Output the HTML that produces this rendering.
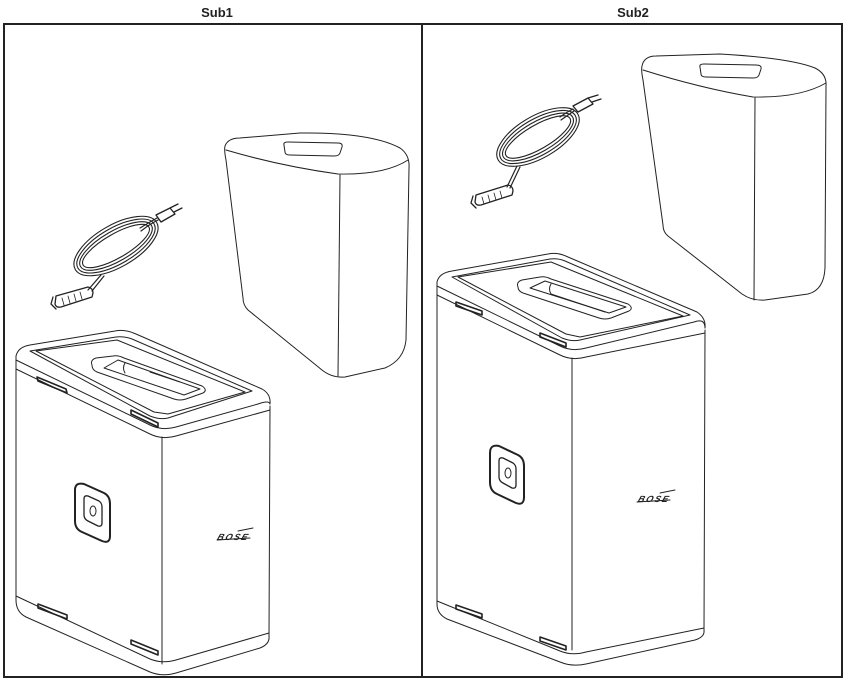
<!DOCTYPE html>
<html><head><meta charset="utf-8"><style>
html,body{margin:0;padding:0;background:#fff;width:844px;height:679px;overflow:hidden}
svg{display:block}
text{font-family:"Liberation Sans",sans-serif}
</style></head><body>
<svg width="844" height="679" viewBox="0 0 844 679" xmlns="http://www.w3.org/2000/svg">
<text x="217" y="17" font-size="13" font-weight="bold" text-anchor="middle" fill="#222">Sub1</text>
<text x="633" y="17" font-size="13" font-weight="bold" text-anchor="middle" fill="#222">Sub2</text>
<rect x="4" y="24" width="838" height="653" fill="none" stroke="#222" stroke-width="2"/>
<line x1="422" y1="24" x2="422" y2="677" stroke="#222" stroke-width="2"/>

<g fill="none" stroke="#222" stroke-width="1" stroke-linejoin="round" stroke-linecap="round">
<!-- ===== Sub1 cover ===== -->
<path d="M225,146 Q228,138 240,138 L300,133 Q370,132 400,148 Q410,155 409,168 L406,340 Q404,360 385,368 L345,377 Q332,378 322,370 L248,310 Q243,305 243,298 L226,160 Q224,150 225,146 Z"/>
<path d="M226,150 Q280,166 338,174 Q385,175 408,160"/>
<path d="M340,175 L338,376"/>
<path d="M284,145 Q283,142 288,142 L338,143 Q343,143 342,147 L340,153 Q339,156 334,156 L290,155 Q285,155 285,152 Z"/>

<!-- Sub1 cord -->
<g transform="translate(116,246) rotate(-30)" stroke-width="1.1">
<ellipse cx="0" cy="0" rx="47" ry="21"/>
<ellipse cx="0" cy="0" rx="44" ry="18"/>
<ellipse cx="0" cy="0" rx="41" ry="15"/>
<ellipse cx="0" cy="0" rx="38" ry="12"/>
</g>
<path d="M104,276 L92,291 M101,275 L88,290" stroke-width="1.2"/>
<path d="M56,296 L88,287 Q93,288 93,293 L92,297 L61,307 Q56,308 55,304 Z M53,297 L51,304 L56,309" stroke-width="1.3"/>
<path d="M62,298 L64,305 M68,296 L70,303 M74,294 L76,301 M80,292 L82,299" stroke-width="0.8"/>
<path d="M140,228 Q150,222 157,218 M141,231 Q150,224 158,220" stroke-width="1.2"/>
<path d="M156,215 L170,208 L175,214 L161,222 Z M170,208 L178,204 M174,212 L182,208" stroke-width="1.3"/>

<!-- ===== Sub1 body ===== -->
<path d="M16,366 L16,356 Q18,347 30,345 L115,331 Q125,329 136,334 L262,389 Q271,394 270,404"/>
<path d="M16,360 L150,425 Q162,431 176,427 L258,404 Q269,400 270,404"/>
<path d="M16,369 L150,434 Q162,440 176,436 L270,410"/>
<path d="M30,351 L116,337 Q124,336 132,339 L252,391 L168,418 Q160,420 150,416 Z"/>
<path d="M36,351 L117,340 L245,392 L168,414 L154,412 Z"/>
<!-- recess -->
<path d="M92,365 Q90,360 96,358 L113,356 Q118,355 124,358 L202,386 Q208,390 203,393 L186,399 Q180,401 174,399 L97,372 Q92,370 92,365 Z"/>
<path d="M118,360 L200,389 L184,395 L104,368 Z"/>
<path d="M125,363 Q122,368 125,373 M150,372 L180,382"/>

<path d="M16,366 L16,600"/>
<path d="M162,437 L162,664"/>
<path d="M270,406 L269,636"/>
<path d="M16,596 L150,659 Q162,664 176,660 L269,633"/>
<path d="M16,600 Q16,612 26,617 L150,672 Q162,677 176,673 L260,648 Q270,644 269,636"/>
<!-- vents sub1 -->
<path d="M37,377 L66,389 L67,393 L38,381 Z" stroke-width="1.6"/>
<path d="M131,410 L158,423 L158,427 L131,414 Z" stroke-width="1.6"/>
<path d="M38,604 L67,615 L67,619 L38,608 Z" stroke-width="1.6"/>
<path d="M131,640 L158,651 L158,655 L131,644 Z" stroke-width="1.6"/>
<!-- button sub1 -->
<path d="M75,490 Q75,482 84,484 L104,493 Q110,496 110,504 L110,536 Q110,544 102,541 L82,532 Q75,529 75,521 Z" stroke-width="2"/>
<path d="M84,499 Q84,495 88,496 L99,501 Q102,503 102,507 L102,523 Q102,527 98,526 L88,521 Q84,519 84,515 Z" stroke-width="1.3"/>
<ellipse cx="93" cy="511" rx="3" ry="5"/>
<!-- logo sub1 -->
<text x="217" y="540" font-size="9" font-weight="bold" font-style="italic" fill="#222" stroke="none" transform="skewX(-20) translate(196,0)" textLength="30">BOSE</text>
<path d="M217,540 L250,538 M238,531 L253,528"/>

<!-- ===== Sub2 cover ===== -->
<path d="M642,66 Q644,56 656,56 L720,54 Q790,58 815,68 Q827,74 826,86 L825,268 Q824,290 808,294 L765,300 Q752,301 742,294 L668,236 Q663,232 663,225 L643,80 Q641,70 642,66 Z"/>
<path d="M643,70 Q700,88 753,97 Q800,98 826,83"/>
<path d="M755,98 L754,300"/>
<path d="M700,67 Q699,64 704,64 L756,65 Q762,65 761,69 L759,75 Q758,78 753,78 L706,77 Q701,77 701,74 Z"/>

<!-- Sub2 cord -->
<g transform="translate(538,137) rotate(-30)" stroke-width="1.1">
<ellipse cx="0" cy="0" rx="46" ry="21"/>
<ellipse cx="0" cy="0" rx="43" ry="18"/>
<ellipse cx="0" cy="0" rx="40" ry="15"/>
<ellipse cx="0" cy="0" rx="37" ry="12"/>
</g>
<path d="M520,167 L510,188 M517,166 L507,187" stroke-width="1.2"/>
<path d="M476,195 L508,185 Q513,186 513,191 L512,195 L481,205 Q476,206 475,202 Z M473,196 L471,203 L476,208" stroke-width="1.3"/>
<path d="M482,197 L484,204 M488,195 L490,202 M494,193 L496,200 M500,191 L502,198" stroke-width="0.8"/>
<path d="M560,117 Q567,112 573,109 M561,120 Q568,115 574,111" stroke-width="1.2"/>
<path d="M573,106 L588,98 L593,104 L578,112 Z M588,98 L598,95 M592,102 L601,99" stroke-width="1.3"/>

<!-- ===== Sub2 body ===== -->
<path d="M437,292 L437,282 Q439,273 452,271 L548,254 Q558,252 568,257 L697,312 Q706,318 705,328"/>
<path d="M437,286 L560,346 Q572,352 586,348 L694,322 Q705,318 705,328"/>
<path d="M437,295 L560,355 Q572,361 586,357 L705,333"/>
<path d="M452,277 L550,259 Q558,258 565,261 L690,315 L580,340 Q572,342 562,338 Z"/>
<path d="M458,277 L551,262 L683,316 L580,337 L566,334 Z"/>
<!-- recess -->
<path d="M518,287 Q516,282 522,280 L540,277 Q545,276 551,279 L628,304 Q634,308 629,311 L611,318 Q605,320 599,318 L523,293 Q518,291 518,287 Z"/>
<path d="M545,281 L626,307 L609,313 L530,288 Z"/>
<path d="M551,284 Q548,289 551,294 L605,312"/>

<path d="M437,292 L437,604"/>
<path d="M572,358 L572,650"/>
<path d="M705,330 L704,632"/>
<path d="M437,601 L560,651 Q572,656 586,652 L704,628"/>
<path d="M437,604 Q437,614 447,619 L560,662 Q572,667 586,664 L695,640 Q705,637 704,630"/>
<!-- vents sub2 -->
<path d="M456,302 L482,311 L482,315 L456,306 Z" stroke-width="1.6"/>
<path d="M540,333 L566,343 L566,347 L540,337 Z" stroke-width="1.6"/>
<path d="M456,605 L482,614 L482,618 L456,609 Z" stroke-width="1.6"/>
<path d="M540,637 L566,646 L566,650 L540,641 Z" stroke-width="1.6"/>
<!-- button sub2 -->
<path d="M490,453 Q490,444 499,446 L518,455 Q524,458 524,466 L524,497 Q524,506 516,503 L497,494 Q490,491 490,482 Z" stroke-width="2"/>
<path d="M499,461 Q499,457 503,458 L513,463 Q516,465 516,469 L516,485 Q516,489 512,488 L503,483 Q499,481 499,477 Z" stroke-width="1.3"/>
<ellipse cx="508" cy="473" rx="3" ry="5"/>
<!-- logo sub2 -->
<text x="638" y="502" font-size="9" font-weight="bold" font-style="italic" fill="#222" stroke="none" textLength="30" transform="skewX(-20) translate(182,0)">BOSE</text>
<path d="M637,502 L670,500 M660,493 L675,490"/>
</g>
</svg>
</body></html>
